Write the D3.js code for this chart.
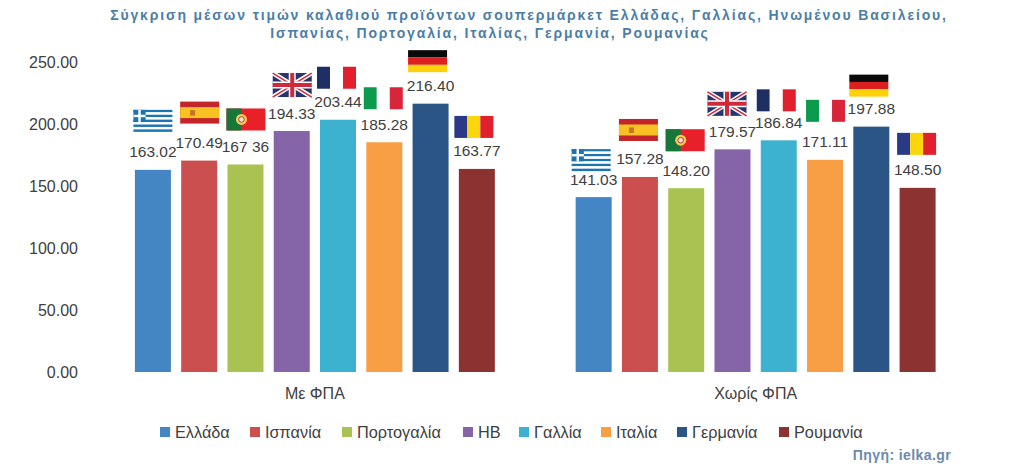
<!DOCTYPE html>
<html lang="el"><head><meta charset="utf-8">
<style>html,body{margin:0;padding:0;background:#fff}svg{display:block}text{font-family:"Liberation Sans",Arial,sans-serif}</style>
<script src="https://cdnjs.cloudflare.com/ajax/libs/d3/7.8.5/d3.min.js"></script>
</head><body><svg id="c" width="1019" height="472"></svg>
<script>
const groups = ["Με ΦΠΑ", "Χωρίς ΦΠΑ"];
const countries = ["Ελλάδα", "Ισπανία", "Πορτογαλία", "ΗΒ", "Γαλλία", "Ιταλία", "Γερμανία", "Ρουμανία"];
const flagKinds = ["gr", "es", "pt", "uk", "fr", "it", "de", "ro"];
const colors = ["#4485c4", "#cb4f4f", "#a9c251", "#8664a8", "#3db1d0", "#f89e45", "#2b5587", "#8c3230"];
const withVat = [163.02, 170.49, 167.36, 194.33, 203.44, 185.28, 216.40, 163.77];
const withoutVat = [141.03, 157.28, 148.20, 179.57, 186.84, 171.11, 197.88, 148.50];
const valueLabels = [
  ["163.02", "170.49", "167 36", "194.33", "203.44", "185.28", "216.40", "163.77"],
  ["141.03", "157.28", "148.20", "179.57", "186.84", "171.11", "197.88", "148.50"]
];
const yTicks = [0, 50, 100, 150, 200, 250];
const series = [withVat, withoutVat];
// flag centre offsets from the top-centre of each bar
const flagDy = [[-49, -48, -45, -46, -42, -44, -42.5, -42], [-37, -47, -48, -45.5, -40, -49, -41, -44]];
const flagDx = [[0, 0.5, 0.5, 0.5, -1.5, -1, -3, -3], [-2.5, -1.5, -1, -5.5, -2.5, 0.5, -2.5, -1]];
const legendX = [160, 250, 342, 463, 519, 601, 677, 779];

const svg = d3.select("#c");
const y = d3.scaleLinear().domain([0, 250]).range([372, 62]);
const gx = d3.scaleBand().domain(groups).range([94.5, 976]);
const bx = d3.scaleBand().domain(countries).range([0, gx.bandwidth()]).paddingOuter(0.873).paddingInner(0.222);

const title = svg.append("g").attr("fill", "#4b7ea6").attr("font-size", 14).attr("font-weight", 700)
  .attr("text-anchor", "middle").attr("letter-spacing", 1.85);
title.append("text").attr("x", 529).attr("y", 20).text("Σύγκριση μέσων τιμών καλαθιού προϊόντων σουπερμάρκετ Ελλάδας, Γαλλίας, Ηνωμένου Βασιλείου,");
title.append("text").attr("x", 490).attr("y", 38).text("Ισπανίας, Πορτογαλία, Ιταλίας, Γερμανία, Ρουμανίας");

svg.append("g").selectAll("text").data(yTicks).join("text")
  .attr("x", 78).attr("y", d => y(d) + 5.5).attr("text-anchor", "end").attr("font-size", 16).attr("fill", "#404040")
  .text(d => d.toFixed(2));

function drawFlag(g, kind) {
  const W = 39, H = 22, x0 = -W / 2, y0 = -H / 2;
  const r = (x, yy, w, h, f) => g.append("rect").attr("x", x0 + x).attr("y", y0 + yy).attr("width", w).attr("height", h).attr("fill", f);
  const vert = cs => cs.forEach((c, i) => r(i * W / 3, 0, W / 3, H, c));
  if (kind === "gr") {
    for (let i = 0; i < 9; i++) r(0, i * H / 9, W, H / 9, i % 2 ? "#fff" : "#1b75b5");
    r(0, 0, 12.2, 12.2, "#1b75b5");
    r(4.9, 0, 2.4, 12.2, "#fff"); r(0, 4.9, 12.2, 2.4, "#fff");
  } else if (kind === "es") {
    r(0, 0, W, H, "#c4252b"); r(0, 5.5, W, 11, "#f8c322"); r(10, 8.5, 5, 5.5, "#c8722c");
  } else if (kind === "pt") {
    r(0, 0, W, H, "#e8202a"); r(0, 0, 15, H, "#17763a");
    g.append("circle").attr("cx", x0 + 15).attr("cy", 0).attr("r", 5.5).attr("fill", "#f2d04a");
    g.append("circle").attr("cx", x0 + 15).attr("cy", 0).attr("r", 2.8).attr("fill", "#e9e4d8").attr("stroke", "#c8323a").attr("stroke-width", 1);
  } else if (kind === "uk") {
    const H2 = 24, y2 = -12, line = (a, b, c, d, col, w) => g.append("line").attr("x1", x0 + a).attr("y1", y2 + b).attr("x2", x0 + c).attr("y2", y2 + d).attr("stroke", col).attr("stroke-width", w);
    g.append("rect").attr("x", x0).attr("y", y2).attr("width", W).attr("height", H2).attr("fill", "#27346f");
    line(0, 0, W, H2, "#fff", 4.5); line(W, 0, 0, H2, "#fff", 4.5);
    line(0, 0, W, H2, "#cf2a3c", 1.5); line(W, 0, 0, H2, "#cf2a3c", 1.5);
    line(W / 2, 0, W / 2, H2, "#fff", 7); line(0, 12, W, 12, "#fff", 7);
    line(W / 2, 0, W / 2, H2, "#cf2a3c", 4); line(0, 12, W, 12, "#cf2a3c", 4);
  } else if (kind === "fr") vert(["#1f2f66", "#fff", "#e21f2d"]);
  else if (kind === "it") vert(["#0c9a4d", "#fff", "#d9253a"]);
  else if (kind === "ro") vert(["#2a3a86", "#fbd60d", "#e0202c"]);
  else if (kind === "de") ["#0a0a0a", "#dd1f1f", "#fdd20a"].forEach((c, i) => r(0, i * H / 3, W, H / 3, c));
}

groups.forEach((grp, gi) => {
  const g = svg.append("g").attr("transform", `translate(${gx(grp)},0)`);
  const vals = series[gi];
  g.selectAll("rect.bar").data(vals).join("rect").attr("class", "bar")
    .attr("x", (d, i) => bx(countries[i])).attr("width", bx.bandwidth())
    .attr("y", d => y(d)).attr("height", d => y(0) - y(d))
    .attr("fill", (d, i) => colors[i]);
  g.selectAll("text.v").data(vals).join("text").attr("class", "v")
    .attr("x", (d, i) => bx(countries[i]) + bx.bandwidth() / 2).attr("y", d => y(d) - 12.5)
    .attr("text-anchor", "middle").attr("font-size", 15.5).attr("fill", "#404040")
    .text((d, i) => valueLabels[gi][i]);
  vals.forEach((d, i) => {
    const f = g.append("g").attr("transform",
      `translate(${bx(countries[i]) + bx.bandwidth() / 2 + flagDx[gi][i]},${y(d) + flagDy[gi][i]})`);
    drawFlag(f, flagKinds[i]);
  });
  svg.append("text").attr("x", gx(grp) + gx.bandwidth() / 2).attr("y", 399)
    .attr("text-anchor", "middle").attr("font-size", 16).attr("fill", "#404040").text(grp);
});

const leg = svg.append("g").selectAll("g").data(countries).join("g")
  .attr("transform", (d, i) => `translate(${legendX[i]},432)`);
leg.append("rect").attr("x", 0).attr("y", -5).attr("width", 10).attr("height", 10).attr("fill", (d, i) => colors[i]);
leg.append("text").attr("x", 15).attr("y", 5.5).attr("font-size", 16.3).attr("fill", "#404040").text(d => d);

svg.append("text").attr("x", 951).attr("y", 460).attr("text-anchor", "end").attr("font-size", 14)
  .attr("font-weight", 700).attr("letter-spacing", 0.4).attr("fill", "#6b8bab").text("Πηγή: ielka.gr");
</script></body></html>
